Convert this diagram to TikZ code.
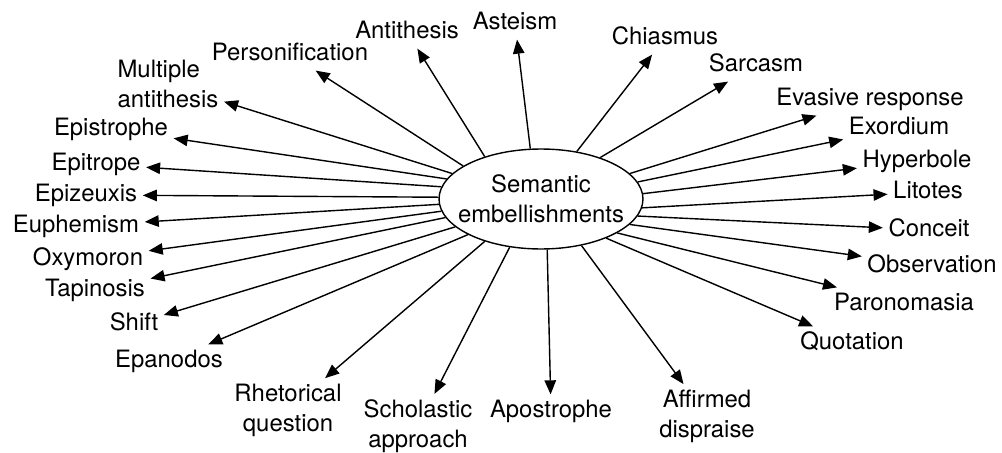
\documentclass[tikz,border=0pt]{standalone}
\usepackage{fontspec}
\setmainfont{TeX Gyre Heros}
\usetikzlibrary{shapes.geometric}
\usetikzlibrary{arrows.meta}

\begin{document}
\begin{tikzpicture}[x=0.02cm, y=-0.02cm]
            \tikzstyle{lbl} = [font=\fontsize{13.6}{17}\selectfont, inner sep=3pt, text height=9.7pt, text depth=2.8pt]
            \tikzstyle{lbltwo} = [font=\fontsize{13.6}{17}\selectfont, inner sep=3pt]
            \tikzstyle{arr} = [line width=0.8pt, -{Triangle[length=8pt, width=6.5pt]}]
            \useasboundingbox (0, 0) rectangle (1002, 453);
            \node[draw, line width=0.8pt, ellipse, minimum width=4.08cm, minimum height=2cm, inner sep=0pt] (sem) at (541, 199) {};
            \node[lbltwo, align=center] at (sem) {Semantic\\embellishments};

            \node[lbl] (antithesis) at (407, 32) {Antithesis};
            \node[lbl] (asteism) at (515, 23) {Asteism};
            \node[lbl] (personification) at (290, 54) {Personification};
            \node[lbltwo, align=left] (multiple) at (168, 84) {Multiple\\antithesis};
            \node[lbl] (epistrophe) at (111, 129) {Epistrophe};
            \node[lbl] (epitrope) at (96, 164) {Epitrope};
            \node[lbl] (epizeuxis) at (86, 195) {Epizeuxis};
            \node[lbl] (euphemism) at (76, 226) {Euphemism};
            \node[lbl] (oxymoron) at (88, 259) {Oxymoron};
            \node[lbl] (tapinosis) at (95, 290) {Tapinosis};
            \node[lbl] (shift) at (134, 324) {Shift};
            \node[lbl] (epanodos) at (169, 361) {Epanodos};
            \node[lbltwo, align=center] (rhetorical) at (288, 410) {Rhetorical\\question};
            \node[lbltwo, align=center] (scholastic) at (418, 426) {Scholastic\\approach};
            \node[lbl] (apostrophe) at (551, 411) {Apostrophe};
            \node[lbltwo, align=center] (affirmed) at (707, 416) {Affirmed\\dispraise};
            \node[lbl] (quotation) at (852, 343) {Quotation};
            \node[lbl] (paronomasia) at (904, 304) {Paronomasia};
            \node[lbl] (observation) at (932, 266) {Observation};
            \node[lbl] (conceit) at (929, 230) {Conceit};
            \node[lbl] (litotes) at (928, 192) {Litotes};
            \node[lbl] (hyperbole) at (917, 161) {Hyperbole};
            \node[lbl] (exordium) at (899, 128) {Exordium};
            \node[lbl] (evasive) at (870, 99) {Evasive response};
            \node[lbl] (sarcasm) at (756, 65) {Sarcasm};
            \node[lbl] (chiasmus) at (665, 38) {Chiasmus};

            \draw[arr] (sem.143) -- (antithesis);
            \draw[arr] (sem.102) -- (asteism);
            \draw[arr] (sem.157) -- (personification);
            \draw[arr] (sem.164) -- (multiple);
            \draw[arr] (sem.168) -- (epistrophe);
            \draw[arr] (sem.173) -- (epitrope);
            \draw[arr] (sem.179) -- (epizeuxis);
            \draw[arr] (sem.183) -- (euphemism);
            \draw[arr] (sem.187) -- (oxymoron);
            \draw[arr] (sem.191) -- (tapinosis);
            \draw[arr] (sem.198) -- (shift);
            \draw[arr] (sem.206) -- (epanodos);
            \draw[arr] (sem.217) -- (rhetorical);
            \draw[arr] (sem.237) -- (scholastic);
            \draw[arr] (sem.277) -- (apostrophe);
            \draw[arr] (sem.311) -- (affirmed);
            \draw[arr] (sem.329) -- (quotation);
            \draw[arr] (sem.336) -- (paronomasia);
            \draw[arr] (sem.344) -- (observation);
            \draw[arr] (sem.350) -- (conceit);
            \draw[arr] (sem.355) -- (litotes);
            \draw[arr] (sem.3) -- (hyperbole);
            \draw[arr] (sem.10) -- (exordium);
            \draw[arr] (sem.16) -- (evasive);
            \draw[arr] (sem.35) -- (sarcasm);
            \draw[arr] (sem.53) -- (chiasmus);
        \end{tikzpicture}
\end{document}
